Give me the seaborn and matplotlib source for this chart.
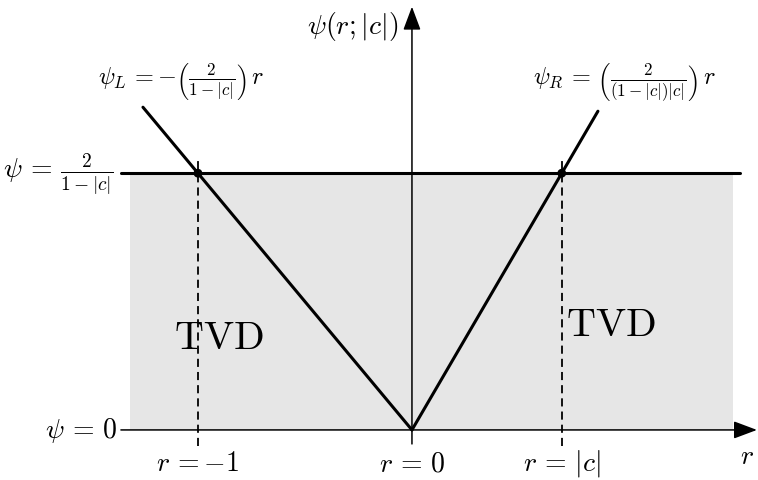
import numpy as np
import pandas as pd
import seaborn as sns
import matplotlib
matplotlib.use("Agg")
import matplotlib.pyplot as plt

sns.set_theme(style="white")
plt.rcParams["mathtext.fontset"] = "cm"
plt.rcParams["font.family"] = ["DejaVu Serif"]
plt.rcParams["text.color"] = "black"

# Courant number magnitude and the resulting flux-limiter bound
c_abs = 0.7
psi_max = 2.0 / (1.0 - c_abs)

# r positions of the marked values
r_ticks = [-1.0, 0.0, c_abs]
r_tick_labels = [r"$r\,=-1$", r"$r\,=\,0$", r"$r\,=\,|c|$"]

# end points of the two limiter branches
r_left = [-1.257, 0.0]
r_right = [0.0, 0.869]
psi_left = [-(2.0 / (1.0 - c_abs)) * r for r in r_left]
psi_right = [(2.0 / ((1.0 - c_abs) * c_abs)) * r for r in r_right]

# extent of the TVD region and of the axes
tvd_r = [-1.318, 1.50]
cap_r = [-1.36, 1.533]
xaxis_r = [-1.36, 1.612]
yaxis_psi = [-0.364, 10.99]

lines = pd.DataFrame({
    "r": r_left + r_right,
    "psi": psi_left + psi_right,
    "branch": ["L", "L", "R", "R"],
})

fig = plt.figure(figsize=(7.58, 4.81), dpi=100)
ax = fig.add_axes([0, 0, 1, 1])
ax.set_xlim(-1.925, 1.617)
ax.set_ylim(-1.30, 11.19)
ax.axis("off")

# shaded TVD region
ax.fill_between(tvd_r, 0, psi_max, color="#e6e6e6", lw=0, zorder=0)

# axes with arrow heads
arrow = dict(arrowstyle="-|>,head_length=0.4,head_width=0.15", mutation_scale=36,
             lw=1.1, color="black", shrinkA=0, shrinkB=0)
ax.annotate("", xy=(xaxis_r[1], 0), xytext=(xaxis_r[0], 0), arrowprops=arrow, zorder=2)
ax.annotate("", xy=(0, yaxis_psi[1]), xytext=(0, yaxis_psi[0]), arrowprops=arrow, zorder=2)

# upper bound psi = 2/(1-|c|)
ax.plot(cap_r, [psi_max, psi_max], color="black", lw=2.2, zorder=3)

# dashed guides at r = -1 and r = |c|
for rv in (r_ticks[0], r_ticks[2]):
    ax.plot([rv, rv], [-0.416, 6.99], color="black", lw=1.3,
            linestyle=(0, (4.5, 2.8)), zorder=3)

# the two limiter branches
sns.lineplot(data=lines, x="r", y="psi", units="branch", estimator=None,
             color="black", lw=2.2, ax=ax, zorder=4, legend=False)

# intersection points
sns.scatterplot(x=[r_ticks[0], r_ticks[2]], y=[psi_max, psi_max], color="black",
                s=40, edgecolor="none", ax=ax, zorder=5, legend=False)

# labels
fs = 20
txt = dict(color="black", va="center")
for rv, lab in zip(r_ticks, r_tick_labels):
    ax.text(rv, -0.857, lab, ha="center", fontsize=fs, **txt)
ax.text(1.565, -0.675, r"$r$", ha="center", fontsize=fs, **txt)
ax.text(-1.379, 0.0, r"$\psi\,=\,0$", ha="right", fontsize=fs, **txt)
ax.text(-1.397, psi_max, r"$\psi\,=\,\frac{2}{1-|c|}$", ha="right", fontsize=fs, **txt)
ax.text(-0.065, 10.49, r"$\psi(r;|c|)$", ha="right", fontsize=fs, **txt)
ax.text(-1.079, 9.06, r"$\psi_L\,=-\left(\frac{2}{1-|c|}\right)\,r$", ha="center",
        fontsize=17.5, **txt)
ax.text(0.995, 9.06, r"$\psi_R\,=\,\left(\frac{2}{(1-|c|)|c|}\right)\,r$", ha="center",
        fontsize=17.5, **txt)
ax.text(-0.902, 2.39, r"$\mathrm{TVD}$", ha="center", fontsize=29, **txt)
ax.text(0.930, 2.73, r"$\mathrm{TVD}$", ha="center", fontsize=29, **txt)

fig.savefig("out.png", dpi=100)
